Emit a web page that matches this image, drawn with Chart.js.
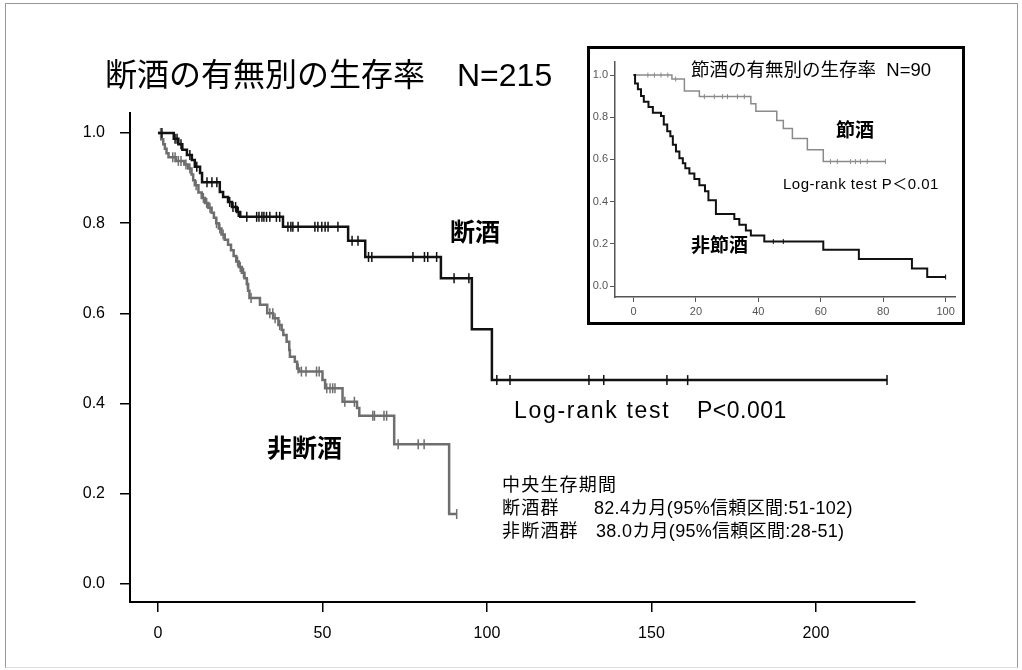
<!DOCTYPE html>
<html lang="ja">
<head>
<meta charset="UTF-8">
<title>断酒の有無別の生存率</title>
<script src="https://cdn.jsdelivr.net/npm/chart.js"></script>
<style>
  body {
    margin: 0;
    width: 1022px;
    height: 670px;
    overflow: hidden;
    background: #fff;
    font-family: "Liberation Sans", "Noto Sans CJK JP", sans-serif;
  }
  #frame {
    position: absolute; left: 5px; top: 3px; width: 1013px; height: 665px;
    border: 1px solid #999; border-bottom-color: #ddd; box-sizing: border-box;
  }
  #mainChart { position: absolute; left: 0; top: 0; }
  #inset {
    position: absolute; left: 587px; top: 46px; width: 378px; height: 279px;
    border: 3px solid #000; box-sizing: border-box; background: #fff;
  }
  #insetChart { position: absolute; left: 0; top: 0; }
  .lbl {
    position: absolute; line-height: 1; white-space: pre;
    transform: translateY(-50%); color: #000;
  }
  .b { font-weight: bold; }
</style>
</head>
<body>
<div id="frame"></div>
<canvas id="mainChart" width="1022" height="670"></canvas>

<div class="lbl" style="left:105px; top:75px; font-size:32px;">断酒の有無別の生存率　N=215</div>
<div class="lbl b" style="left:450px; top:232px; font-size:25px;">断酒</div>
<div class="lbl b" style="left:267px; top:448px; font-size:25px;">非断酒</div>
<div class="lbl" style="left:514px; top:410px; font-size:23px; letter-spacing:1.7px;">Log-rank test</div>
<div class="lbl" style="left:697px; top:410px; font-size:23px; letter-spacing:0.5px;">P&lt;0.001</div>
<div class="lbl" style="left:502px; top:485px; font-size:18px; letter-spacing:1.2px;">中央生存期間</div>
<div class="lbl" style="left:502px; top:508px; font-size:18px; letter-spacing:1.2px;">断酒群</div>
<div class="lbl" style="left:594px; top:508px; font-size:18px; letter-spacing:0.3px;">82.4カ月(95%信頼区間:51-102)</div>
<div class="lbl" style="left:502px; top:531px; font-size:18px; letter-spacing:1.2px;">非断酒群</div>
<div class="lbl" style="left:596px; top:531px; font-size:18px; letter-spacing:0.3px;">38.0カ月(95%信頼区間:28-51)</div>

<div id="inset"><canvas id="insetChart" width="372" height="273"></canvas></div>
<div class="lbl" style="left:691px; top:70px; font-size:18.5px;">節酒の有無別の生存率  N=90</div>
<div class="lbl b" style="left:836px; top:130px; font-size:19px;">節酒</div>
<div class="lbl" style="left:783px; top:183px; font-size:15px; letter-spacing:0.5px;">Log-rank test P＜0.01</div>
<div class="lbl b" style="left:691px; top:245px; font-size:19px;">非節酒</div>

<script>
  // main chart: 断酒 (abstained) — event times (months) and survival after each event
  const abstainTimes = [4.8, 6.2, 7.4, 8.8, 10.3, 11.2, 12.8, 13.4, 18.8, 19.8, 21.3, 22.5, 24.0, 25.0, 38.0, 57.8, 63.0, 86.0, 95.4, 101.5];
  const abstainSurv = [0.987, 0.975, 0.963, 0.951, 0.94, 0.925, 0.911, 0.891, 0.869, 0.858, 0.847, 0.836, 0.825, 0.814, 0.792, 0.761, 0.725, 0.678, 0.565, 0.452];
  const abstainCensor = [1.2, 5.2, 5.8, 7.0, 9.7, 11.8, 14.9, 16.4, 17.9, 21.8, 22.8, 23.6, 24.4, 27, 30, 30.7, 31.6, 32.2, 33, 34, 36, 37,
    39.5, 40.4, 41, 42.6, 47.7, 48.6, 49.8, 50.8, 51.7, 54.7, 59, 60.8, 64, 65, 77.5, 81, 82, 84.7, 90, 94.5,
    103, 107, 131, 135.5, 154.7, 161, 221.6];

  // main chart: 非断酒 (did not abstain)
  const drinkTimes = [1.0, 1.6, 2.1, 2.6, 3.2, 5.5, 8.0, 9.2, 10.2, 10.7, 11.2, 12.3, 13.3, 14.3, 15.3, 16.3, 17.0, 17.7, 18.5, 19.3,
    20.3, 21.3, 22.2, 23.0, 23.8, 24.6, 25.5, 26.3, 27.0, 27.4, 27.8, 31.0, 33.2, 35.0, 36.6, 37.6, 38.1, 39.1, 39.9, 40.1,
    41.6, 42.3, 42.9, 50.0, 50.8, 56.1, 60.5, 61.2, 71.8, 88.5];
  const drinkSurv = [0.986, 0.975, 0.965, 0.955, 0.946, 0.938, 0.930, 0.921, 0.908, 0.895, 0.884, 0.868, 0.856, 0.845, 0.834, 0.823, 0.812, 0.800, 0.788, 0.775,
    0.763, 0.752, 0.740, 0.727, 0.715, 0.703, 0.690, 0.678, 0.665, 0.650, 0.634, 0.619, 0.600, 0.589, 0.574, 0.563, 0.552, 0.537, 0.519, 0.504,
    0.493, 0.478, 0.471, 0.452, 0.434, 0.404, 0.390, 0.373, 0.310, 0.155];
  const drinkCensor = [0.8, 4.5, 5.2, 6.2, 7.0, 8.5, 9.7, 11.6, 13.8, 14.8, 15.8, 17.8, 18.8, 19.8, 24.2, 25.0, 26.0, 27.2, 28.3,
    34.0, 34.9, 35.6, 37.0, 42.6, 43.6, 45.0, 48.2, 49.0, 51.3, 52.3, 53.1, 53.8, 56.8, 59.7, 65.3, 65.8, 68.7, 69.5,
    73.0, 79.1, 80.9, 90.8];

  // inset: 節酒 (moderated) / 非節酒
  const moderateTimes = [12.3, 16.3, 21.1, 37.6, 39.2, 45.9, 48.0, 50.9, 55.7, 60.8];
  const moderateSurv = [0.981, 0.925, 0.898, 0.864, 0.829, 0.785, 0.747, 0.699, 0.646, 0.590];
  const moderateCensor = [4.6, 6.7, 8.8, 11.0, 13.5, 22.7, 25.9, 28.5, 30.1, 33.3, 35.5, 63.1, 65.3, 69.5, 71.1, 72.7, 74.9, 80.7];

  const heavyTimes = [0.5, 1.4, 2.4, 3.3, 4.8, 6.2, 8.8, 9.7, 10.8, 11.8, 12.6, 13.6, 14.7, 15.8, 16.6, 17.9, 19.5, 21.1, 22.9, 24.0,
    26.4, 32.3, 33.9, 36.0, 37.6, 41.9, 60.8, 72.2, 89.2, 94.1];
  const heavySurv = [0.96, 0.933, 0.901, 0.874, 0.849, 0.821, 0.806, 0.766, 0.734, 0.71, 0.67, 0.638, 0.606, 0.582, 0.558, 0.534, 0.507, 0.478, 0.449, 0.407,
    0.342, 0.318, 0.29, 0.263, 0.239, 0.211, 0.172, 0.128, 0.083, 0.043];
  const heavyCensor = [44.8, 48.0, 100];

  const mainXTicks = [0, 50, 100, 150, 200];
  const mainYTicks = [0, 0.2, 0.4, 0.6, 0.8, 1.0];
  const insetXTicks = [0, 20, 40, 60, 80, 100];
  const insetYTicks = [0, 0.2, 0.4, 0.6, 0.8, 1.0];

  // step curve starting at 1.0, running to the last follow-up
  function kmLine(times, surv, censor) {
    const pts = [{ x: 0, y: 1 }];
    times.forEach((t, i) => pts.push({ x: t, y: surv[i] }));
    const end = Math.max(times[times.length - 1], ...censor);
    pts.push({ x: end, y: surv[surv.length - 1] });
    return pts;
  }

  function survAt(times, surv, t) {
    let s = 1;
    times.forEach((tt, i) => { if (tt <= t) s = surv[i]; });
    return s;
  }

  function censorMarks(censor, times, surv) {
    return censor.map(t => ({ x: t, y: survAt(times, surv, t) }));
  }

  function lineSet(label, data, color, width) {
    return { label: label, data: data, stepped: true, borderColor: color, borderWidth: width,
             pointRadius: 0, fill: false };
  }

  function markSet(label, data, color, radius, width) {
    return { type: "scatter", label: label, data: data, pointStyle: "line", rotation: 90,
             pointRadius: radius, pointBorderColor: color, pointBorderWidth: width, borderColor: color };
  }

  function axis(min, max, ticks, fmt, opts) {
    return {
      type: "linear", min: min, max: max,
      afterBuildTicks: (s) => { s.ticks = ticks.map(v => ({ value: v })); },
      afterFit: (s) => { if (opts.width) s.width = opts.width; if (opts.height) s.height = opts.height; },
      grid: { drawOnChartArea: false, drawTicks: true, tickLength: opts.tickLength, color: opts.color, lineWidth: opts.tickWidth },
      border: { display: true, color: opts.color, width: opts.borderWidth },
      ticks: { autoSkip: false, maxRotation: 0, padding: opts.padding, color: opts.labelColor,
               font: { family: "Liberation Sans", size: opts.fontSize }, callback: fmt }
    };
  }

  new Chart(document.getElementById("mainChart"), {
    type: "line",
    data: {
      datasets: [
        lineSet("断酒", kmLine(abstainTimes, abstainSurv, abstainCensor), "#111", 2.5),
        markSet("断酒 censored", censorMarks(abstainCensor, abstainTimes, abstainSurv), "#111", 5, 1.5),
        lineSet("非断酒", kmLine(drinkTimes, drinkSurv, drinkCensor), "#6e6e6e", 2.5),
        markSet("非断酒 censored", censorMarks(drinkCensor, drinkTimes, drinkSurv), "#6e6e6e", 5, 1.5)
      ]
    },
    options: {
      responsive: false,
      animation: false,
      layout: { padding: { left: 0, right: 107, top: 113, bottom: 0 } },
      plugins: { legend: { display: false }, tooltip: { enabled: false } },
      scales: {
        x: axis(-8.5, 230.1, mainXTicks, (v) => v, { height: 68, tickLength: 10, color: "#000", tickWidth: 1.5,
          borderWidth: 2, padding: 12, labelColor: "#000", fontSize: 16 }),
        y: axis(-0.04, 1.0443, mainYTicks, (v) => v.toFixed(1), { width: 130, tickLength: 10, color: "#000", tickWidth: 1.5,
          borderWidth: 2, padding: 15, labelColor: "#000", fontSize: 16 })
      }
    }
  });

  new Chart(document.getElementById("insetChart"), {
    type: "line",
    data: {
      datasets: [
        lineSet("非節酒", kmLine(heavyTimes, heavySurv, heavyCensor), "#111", 2),
        markSet("非節酒 censored", censorMarks(heavyCensor, heavyTimes, heavySurv), "#111", 2.5, 1),
        lineSet("節酒", kmLine(moderateTimes, moderateSurv, moderateCensor), "#8a8a8a", 1.5),
        markSet("節酒 censored", censorMarks(moderateCensor, moderateTimes, moderateSurv), "#8a8a8a", 2.5, 1)
      ]
    },
    options: {
      responsive: false,
      animation: false,
      layout: { padding: { left: 0, right: 7, top: 13, bottom: 0 } },
      plugins: { legend: { display: false }, tooltip: { enabled: false } },
      scales: {
        x: axis(-5.93, 103, insetXTicks, (v) => v, { height: 25, tickLength: 5, color: "#555", tickWidth: 1,
          borderWidth: 1.5, padding: 3, labelColor: "#555", fontSize: 11 }),
        y: axis(-0.052, 1.062, insetYTicks, (v) => v.toFixed(1), { width: 25, tickLength: 5, color: "#555", tickWidth: 1,
          borderWidth: 1.5, padding: 2, labelColor: "#555", fontSize: 11 })
      }
    }
  });
</script>
</body>
</html>
